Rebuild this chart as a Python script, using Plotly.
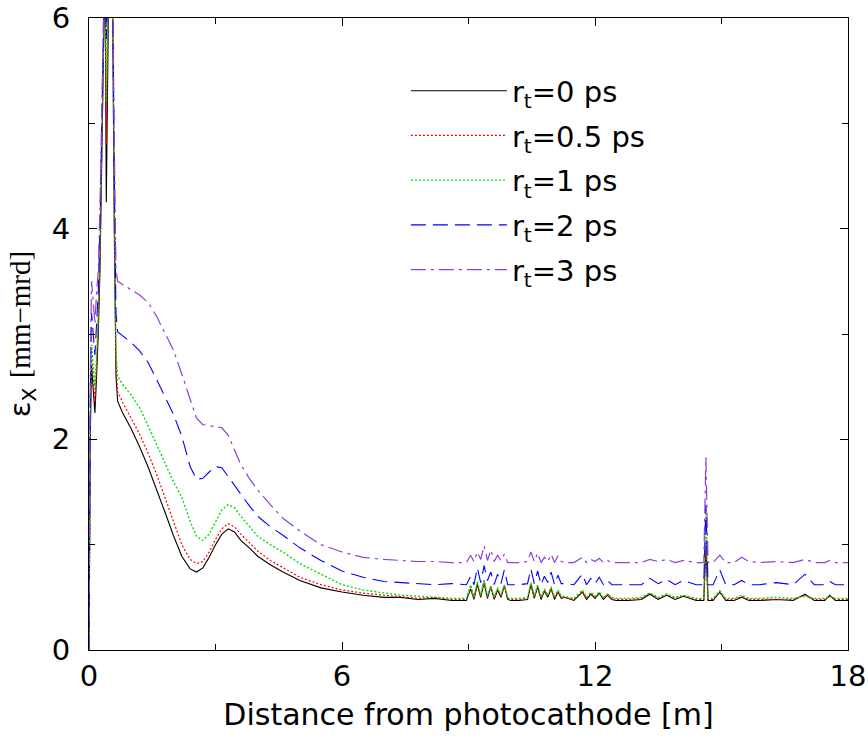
import plotly.graph_objects as go

# distance from photocathode [m]
x_m = [0, 0.03, 0.06, 0.1, 0.14, 0.18, 0.22, 0.26, 0.3, 0.34, 0.38, 0.41, 0.44, 0.48, 0.52, 0.56, 0.6, 0.64, 0.68,
       0.8, 1.0, 1.2, 1.4, 1.6, 1.8, 2.0, 2.2, 2.4, 2.55, 2.7, 2.85, 3.0, 3.15, 3.3, 3.45, 3.6, 3.8, 4.0, 4.3, 4.6, 5.0, 5.5, 6.0, 6.5, 7.0,
       7.4, 7.8, 8.2, 8.6, 8.95,
       9.05, 9.13, 9.21, 9.29, 9.37, 9.45, 9.53, 9.61, 9.69, 9.77, 9.85, 9.93, 10.0,
       10.2, 10.4,
       10.48, 10.56, 10.64, 10.72, 10.8, 10.88, 10.96, 11.04, 11.12, 11.2, 11.28,
       11.5,
       11.7, 11.8, 11.9, 12.0, 12.1, 12.2, 12.3, 12.4, 12.5,
       12.8, 13.1, 13.3, 13.5, 13.7, 13.9, 14.1, 14.4,
       14.58, 14.63, 14.68,
       14.8, 14.96, 15.1, 15.3, 15.48, 15.65, 15.9, 16.3, 16.7, 16.98, 17.2, 17.45, 17.57, 17.7, 18.0]

emit_rt0 = [0, 2.0, 2.7, 2.5, 2.25, 2.6, 3.0, 3.6, 4.8, 6.2, 6.6, 4.25, 6.4, 6.8, 6.6, 6.2, 4.0, 2.6, 2.36,
            2.25, 2.1, 1.93, 1.74, 1.53, 1.31, 1.09, 0.89, 0.77, 0.74, 0.78, 0.88, 1.0, 1.1, 1.15, 1.12, 1.04, 0.97, 0.89, 0.81, 0.74, 0.66, 0.59, 0.55, 0.52, 0.50,
            0.50, 0.48, 0.49, 0.47, 0.47,
            0.58, 0.48, 0.62, 0.50, 0.64, 0.49, 0.60, 0.48, 0.57, 0.50, 0.61, 0.48, 0.47,
            0.47, 0.48,
            0.62, 0.49, 0.60, 0.48, 0.56, 0.50, 0.58, 0.48, 0.55, 0.49, 0.50,
            0.47,
            0.55, 0.48, 0.53, 0.49, 0.54, 0.48, 0.52, 0.48, 0.47,
            0.47, 0.48, 0.53, 0.48, 0.52, 0.48, 0.51, 0.47,
            0.47, 0.98, 0.47,
            0.47, 0.55, 0.47, 0.47, 0.50, 0.47, 0.47, 0.48, 0.47, 0.53, 0.47, 0.47, 0.52, 0.47, 0.47]

emit_rt05 = [0, 2.1, 2.8, 2.6, 2.35, 2.7, 3.1, 3.7, 4.9, 6.2, 6.6, 4.8, 6.4, 6.8, 6.6, 6.2, 4.1, 2.7, 2.45,
             2.35, 2.2, 2.05, 1.87, 1.67, 1.45, 1.22, 1.0, 0.86, 0.82, 0.84, 0.93, 1.05, 1.15, 1.2, 1.17, 1.1, 1.02, 0.94, 0.85, 0.78, 0.69, 0.62, 0.57, 0.54, 0.52,
             0.51, 0.49, 0.50, 0.48, 0.48,
             0.60, 0.49, 0.63, 0.51, 0.66, 0.50, 0.61, 0.49, 0.58, 0.51, 0.60, 0.49, 0.48,
             0.48, 0.49,
             0.63, 0.50, 0.61, 0.49, 0.57, 0.51, 0.59, 0.49, 0.56, 0.50, 0.50,
             0.48,
             0.56, 0.49, 0.54, 0.50, 0.55, 0.49, 0.53, 0.49, 0.48,
             0.48, 0.49, 0.54, 0.49, 0.53, 0.49, 0.52, 0.48,
             0.48, 1.05, 0.48,
             0.48, 0.56, 0.48, 0.48, 0.51, 0.48, 0.48, 0.48, 0.48, 0.52, 0.48, 0.48, 0.51, 0.48, 0.48]

emit_rt1 = [0, 2.2, 2.9, 2.7, 2.5, 2.8, 3.2, 3.8, 5.0, 6.3, 6.6, 5.2, 6.5, 6.8, 6.6, 6.2, 4.2, 2.8, 2.6,
            2.52, 2.42, 2.3, 2.13, 1.95, 1.77, 1.6, 1.45, 1.22, 1.08, 1.04, 1.1, 1.22, 1.33, 1.38, 1.35, 1.27, 1.17, 1.08, 1.0, 0.93, 0.82, 0.72, 0.62, 0.57, 0.54,
            0.52, 0.51, 0.50, 0.49, 0.49,
            0.62, 0.50, 0.65, 0.52, 0.66, 0.51, 0.60, 0.50, 0.59, 0.52, 0.62, 0.50, 0.49,
            0.49, 0.50,
            0.64, 0.51, 0.62, 0.50, 0.58, 0.52, 0.60, 0.50, 0.57, 0.51, 0.51,
            0.49,
            0.57, 0.50, 0.55, 0.51, 0.55, 0.50, 0.53, 0.50, 0.49,
            0.49, 0.50, 0.54, 0.50, 0.53, 0.50, 0.52, 0.49,
            0.49, 1.35, 0.49,
            0.49, 0.56, 0.49, 0.49, 0.52, 0.49, 0.49, 0.50, 0.49, 0.51, 0.49, 0.49, 0.51, 0.49, 0.49]

emit_rt2 = [0, 2.4, 3.2, 3.0, 2.8, 3.1, 3.4, 4.0, 5.3, 6.4, 6.7, 5.8, 6.6, 6.8, 6.6, 6.3, 4.5, 3.2, 3.02,
            2.98, 2.92, 2.84, 2.73, 2.57, 2.4, 2.24, 2.03, 1.74, 1.62, 1.63, 1.69, 1.74, 1.73, 1.65, 1.57, 1.48, 1.37, 1.27, 1.17, 1.09, 0.97, 0.85, 0.75, 0.69, 0.65,
            0.64, 0.63, 0.62, 0.63, 0.62,
            0.70, 0.62, 0.78, 0.64, 0.80, 0.66, 0.74, 0.62, 0.72, 0.63, 0.76, 0.62, 0.62,
            0.62, 0.63,
            0.77, 0.63, 0.75, 0.62, 0.70, 0.64, 0.74, 0.62, 0.71, 0.63, 0.63,
            0.62,
            0.72, 0.62, 0.68, 0.63, 0.69, 0.62, 0.66, 0.62, 0.62,
            0.62, 0.62, 0.68, 0.63, 0.67, 0.62, 0.66, 0.62,
            0.62, 1.38, 0.62,
            0.62, 0.76, 0.62, 0.62, 0.66, 0.62, 0.62, 0.64, 0.62, 0.72, 0.62, 0.62, 0.65, 0.62, 0.62]

emit_rt3 = [0, 2.6, 3.5, 3.3, 3.1, 3.4, 3.6, 4.2, 5.5, 6.5, 6.8, 6.2, 6.7, 6.9, 6.6, 6.4, 4.8, 3.6, 3.5,
            3.47, 3.42, 3.37, 3.3, 3.17, 3.01, 2.85, 2.62, 2.37, 2.2, 2.14, 2.13, 2.12, 2.11, 2.04, 1.9, 1.76, 1.63, 1.52, 1.38, 1.25, 1.13, 1.0, 0.93, 0.88, 0.86,
            0.85, 0.84, 0.84, 0.83, 0.83,
            0.90, 0.84, 0.93, 0.86, 0.99, 0.85, 0.95, 0.84, 0.90, 0.85, 0.91, 0.83, 0.83,
            0.83, 0.84,
            0.93, 0.84, 0.92, 0.83, 0.88, 0.84, 0.91, 0.83, 0.89, 0.84, 0.83,
            0.83,
            0.88, 0.83, 0.86, 0.84, 0.87, 0.83, 0.85, 0.83, 0.83,
            0.83, 0.83, 0.86, 0.84, 0.86, 0.83, 0.85, 0.83,
            0.83, 1.83, 0.83,
            0.83, 0.90, 0.83, 0.83, 0.88, 0.84, 0.83, 0.84, 0.83, 0.86, 0.83, 0.83, 0.85, 0.83, 0.83]

series_names = ["r<sub>t</sub>=0 ps", "r<sub>t</sub>=0.5 ps", "r<sub>t</sub>=1 ps",
                "r<sub>t</sub>=2 ps", "r<sub>t</sub>=3 ps"]
series_values = [emit_rt0, emit_rt05, emit_rt1, emit_rt2, emit_rt3]
colors = ["#000000", "#ff0000", "#00e000", "#0000ff", "#8f3fd8"]
widths = [1.1, 1.2, 1.4, 1.1, 1.2]
dashes = ["solid", "2px,2px", "2px,2px", "15px,7px", "15px,5px,3px,5px"]

x_ticks = [0, 6, 12, 18]
y_ticks = [0, 2, 4, 6]

fig = go.Figure()
for i, (name, vals, col, w, dash) in enumerate(zip(series_names, series_values, colors, widths, dashes)):
    fig.add_trace(go.Scatter(x=x_m, y=vals, mode="lines", name=name, legendgroup=f"g{i}",
                             line=dict(color=col, width=w, dash=dash)))

font_family = "DejaVu Sans, Liberation Sans, sans-serif"
fig.update_layout(
    template="none",
    width=868, height=738,
    margin=dict(l=89, r=20, t=18, b=88, autoexpand=False),
    paper_bgcolor="white", plot_bgcolor="white",
    font=dict(family=font_family, size=29, color="black"),
    showlegend=True,
    legend=dict(x=0.4175, y=0.925, xanchor="left", yanchor="top",
                bgcolor="rgba(0,0,0,0)", borderwidth=0, font=dict(size=29),
                itemwidth=96, tracegroupgap=4),
    xaxis=dict(range=[0, 18], tickvals=x_ticks, ticktext=[str(v) for v in x_ticks],
               ticks="inside", ticklen=8, tickcolor="black", tickwidth=1,
               minor=dict(dtick=3, ticks="inside", ticklen=6, tickcolor="black"),
               showline=True, linecolor="black", linewidth=1, mirror="ticks",
               showgrid=False, zeroline=False, automargin=False,
               tickfont=dict(size=29),
               title=dict(text="Distance from photocathode [m]", font=dict(size=30), standoff=12)),
    yaxis=dict(range=[0, 6], tickvals=y_ticks, ticktext=[str(v) for v in y_ticks],
               ticks="inside", ticklen=8, tickcolor="black", tickwidth=1,
               minor=dict(dtick=1, ticks="inside", ticklen=6, tickcolor="black"),
               showline=True, linecolor="black", linewidth=1, mirror="ticks",
               showgrid=False, zeroline=False, automargin=False,
               tickfont=dict(size=29), ticklabelstandoff=12,
               title=dict(text="ε<sub>X</sub> <span style=\"font-family:'Liberation Serif', 'Times New Roman', serif\">[mm−mrd]</span>",
                          font=dict(size=29), standoff=12)),
)

fig.write_html("out.html")
